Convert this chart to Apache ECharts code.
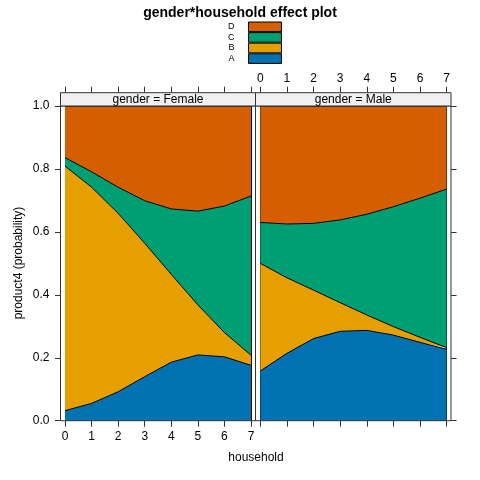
<!DOCTYPE html>
<html><head><meta charset="utf-8">
<script src="https://cdn.jsdelivr.net/npm/echarts@6/dist/echarts.min.js"></script>
<style>html,body{margin:0;padding:0;background:#fff}#c{width:480px;height:480px}</style>
</head><body><div id="c"></div>
<script>
// ---- data ----
const household = ['0', '1', '2', '3', '4', '5', '6', '7'];
const levels = ['A', 'B', 'C', 'D'];
const legendOrder = ['D', 'C', 'B', 'A'];
const panels = ['gender = Female', 'gender = Male'];

const femaleA = [0.032, 0.055, 0.092, 0.140, 0.186, 0.209, 0.203, 0.176];
const femaleB = [0.777, 0.687, 0.567, 0.424, 0.279, 0.159, 0.077, 0.032];
const femaleC = [0.027, 0.049, 0.083, 0.135, 0.208, 0.298, 0.402, 0.506];
const femaleD = [0.164, 0.209, 0.258, 0.301, 0.327, 0.334, 0.318, 0.286];

const maleA = [0.158, 0.214, 0.261, 0.284, 0.287, 0.272, 0.249, 0.227];
const maleB = [0.342, 0.240, 0.154, 0.091, 0.049, 0.027, 0.016, 0.005];
const maleC = [0.130, 0.171, 0.212, 0.263, 0.320, 0.381, 0.442, 0.504];
const maleD = [0.370, 0.375, 0.373, 0.362, 0.344, 0.320, 0.293, 0.264];

// ---- styling ----
const FONT = '"Liberation Sans", Arial, Helvetica, sans-serif';
const colors = { A: '#0072B2', B: '#E69F00', C: '#009E73', D: '#D55E00' };
const AX = '#333';

const female = { A: femaleA, B: femaleB, C: femaleC, D: femaleD };
const male = { A: maleA, B: maleB, C: maleC, D: maleD };

function makeSeries(stackName, vals, xi, yi) {
  return levels.map((lv, k) => {
    const s = {
      name: lv, type: 'line', stack: stackName,
      xAxisIndex: xi, yAxisIndex: yi,
      data: vals[lv],
      symbol: 'none', smooth: false, z: 10 - k,
      lineStyle: { color: '#000', width: 1 },
      itemStyle: { color: colors[lv] },
      areaStyle: { color: colors[lv], opacity: 1 },
      emphasis: { disabled: true },
      silent: true,
      animation: false
    };
    if (k === levels.length - 1) {
      s.markLine = {
        silent: true, symbol: ['none', 'none'], animation: false,
        label: { show: false },
        lineStyle: { color: '#000', width: 1, type: 'solid' },
        data: [{ xAxis: household[0] }, { xAxis: household[household.length - 1] }]
      };
    }
    return s;
  });
}

function xAxisCfg(gridIndex, position, showLabels, offset) {
  return {
    type: 'category', gridIndex, position, offset,
    data: household, boundaryGap: false,
    axisLine: { show: false },
    axisTick: { show: true, length: 6, interval: 0, lineStyle: { color: AX, width: 1 } },
    axisLabel: { show: showLabels, interval: 0, margin: position === 'top' ? 8 : 10, fontSize: 12, fontFamily: FONT, color: '#000' },
    splitLine: { show: false }
  };
}
function yAxisCfg(gridIndex, position, showLabels) {
  return {
    type: 'value', gridIndex, position, offset: 4.5,
    min: 0, max: 1, interval: 0.2,
    axisLine: { show: false },
    axisTick: { show: true, length: 5.5, lineStyle: { color: AX, width: 1 } },
    axisLabel: { show: showLabels, margin: 11, fontSize: 12, fontFamily: FONT, color: '#000',
      formatter: v => v.toFixed(1) },
    splitLine: { show: false }
  };
}

const PT = 106, PH = 314.7, ST = 92.7;
const frames = [
  { x: 60.5, w: 195 },
  { x: 255.5, w: 195.5 }
];
const graphics = [];
frames.forEach((f, i) => {
  graphics.push({ type: 'rect', z: 100, silent: true,
    shape: { x: f.x, y: PT, width: f.w, height: PH },
    style: { fill: 'none', stroke: AX, lineWidth: 1 } });
  graphics.push({ type: 'rect', z: 100, silent: true,
    shape: { x: f.x, y: ST, width: f.w, height: PT - ST },
    style: { fill: '#f0f0f0', stroke: AX, lineWidth: 1 } });
  graphics.push({ type: 'text', z: 101, silent: true,
    x: f.x + f.w / 2, y: (ST + PT) / 2 + 0.5,
    style: { text: panels[i], fill: '#000', font: '12px ' + FONT, align: 'center', verticalAlign: 'middle' } });
});
graphics.push({ type: 'text', silent: true, x: 256, y: 458,
  style: { text: 'household', fill: '#000', font: '12px ' + FONT, align: 'center', verticalAlign: 'middle' } });
graphics.push({ type: 'text', silent: true, x: 19, y: 263, rotation: Math.PI / 2,
  style: { text: 'product4 (probability)', fill: '#000', font: '12px ' + FONT, align: 'center', verticalAlign: 'middle' } });

const chart = echarts.init(document.getElementById('c'), null, { renderer: 'canvas' });
chart.setOption({
  backgroundColor: '#fff',
  animation: false,
  title: {
    text: 'gender*household effect plot', left: 'center', top: 6, padding: 0,
    textStyle: { fontSize: 14, fontWeight: 'bold', fontFamily: FONT, color: '#000' }
  },
  legend: {
    orient: 'vertical', right: 198, top: 21.5, padding: 0, itemGap: 0,
    itemWidth: 33, itemHeight: 9.6, align: 'right', icon: 'rect',
    selectedMode: false,
    data: legendOrder.map(n => ({ name: n, itemStyle: { color: colors[n], borderColor: '#000', borderWidth: 1 } })),
    textStyle: { fontSize: 9, fontFamily: FONT, color: '#000', lineHeight: 9.6, padding: [0, 9, 0, 0] }
  },
  grid: [
    { left: 65, top: PT, width: 186, height: PH },
    { left: 260.3, top: PT, width: 186.3, height: PH }
  ],
  xAxis: [
    xAxisCfg(0, 'bottom', true, 0),
    xAxisCfg(0, 'top', false, PT - ST),
    xAxisCfg(1, 'bottom', false, 0),
    xAxisCfg(1, 'top', true, PT - ST)
  ],
  yAxis: [
    yAxisCfg(0, 'left', true),
    yAxisCfg(1, 'right', false)
  ],
  graphic: graphics,
  series: [
    ...makeSeries('female', female, 0, 0),
    ...makeSeries('male', male, 2, 1)
  ]
});
</script>
</body></html>
